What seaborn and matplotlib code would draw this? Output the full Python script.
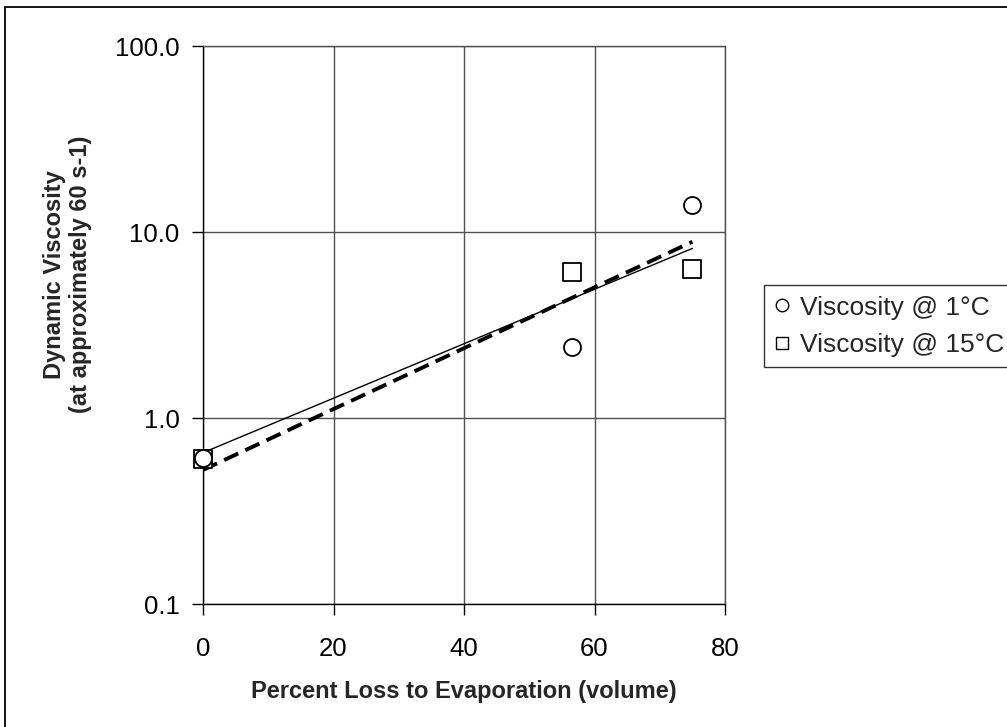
import numpy as np
import pandas as pd
import seaborn as sns
import matplotlib
matplotlib.use("Agg")
import matplotlib.pyplot as plt
from matplotlib.patches import Rectangle
from matplotlib.lines import Line2D
from matplotlib.ticker import FixedLocator, FuncFormatter, NullLocator

# ---- data ----
loss_pct = [0.0, 56.6, 75.0]
visc_1c = [0.61, 2.42, 14.0]
visc_15c = [0.60, 6.12, 6.35]
series_names = ["Viscosity @ 1°C", "Viscosity @ 15°C"]
x_ticks = [0, 20, 40, 60, 80]
y_ticks = [0.1, 1.0, 10.0, 100.0]

sns.set_theme(style="white")
plt.rcParams["font.family"] = ["Liberation Sans", "DejaVu Sans"]

W, H = 1007, 727
fig = plt.figure(figsize=(W / 100, H / 100), dpi=100)
ax = fig.add_axes([203 / W, 1 - 604 / H, (725 - 203) / W, (604 - 46) / H])

df1 = pd.DataFrame({"loss": loss_pct, "visc": visc_1c})
df15 = pd.DataFrame({"loss": loss_pct, "visc": visc_15c})

# exponential trendlines (least squares on log y)
xfit = np.linspace(min(loss_pct), max(loss_pct), 100)
for vals, ls, lw in [(visc_15c, "-", 1.0), (visc_1c, (0, (4, 2)), 2.8)]:
    b, a = np.polyfit(loss_pct, np.log(vals), 1)
    sns.lineplot(x=xfit, y=np.exp(a + b * xfit), ax=ax, color="black",
                 linestyle=ls, linewidth=lw, zorder=3)

sns.scatterplot(data=df15, x="loss", y="visc", marker="s", s=150,
                facecolor="white", edgecolor="black", linewidth=1.3,
                ax=ax, legend=False, zorder=4, clip_on=False)
sns.scatterplot(data=df1, x="loss", y="visc", marker="o", s=150,
                facecolor="white", edgecolor="black", linewidth=1.3,
                ax=ax, legend=False, zorder=5, clip_on=False)

ax.set_yscale("log")
ax.set_xlim(0, 80)
ax.set_ylim(0.1, 100)
ax.xaxis.set_major_locator(FixedLocator(x_ticks))
ax.yaxis.set_major_locator(FixedLocator(y_ticks))
ax.yaxis.set_minor_locator(NullLocator())
ax.yaxis.set_major_formatter(FuncFormatter(lambda v, p: f"{v:.1f}"))
ax.xaxis.set_major_formatter(FuncFormatter(lambda v, p: f"{v:g}"))

ax.grid(True, which="major", color="#505050", linewidth=1.0)
for s in ax.spines.values():
    s.set_color("#505050")
    s.set_linewidth(1.0)
ax.spines["left"].set_color("black")
ax.spines["bottom"].set_color("black")
ax.tick_params(axis="x", which="major", direction="out", length=8,
               width=1.0, color="black", labelsize=18.5, labelcolor="black",
               pad=16, bottom=True)
ax.tick_params(axis="y", which="major", direction="out", length=8,
               width=1.0, color="black", labelsize=18.5, labelcolor="black",
               pad=9, left=True)

ax.set_xlabel("Percent Loss to Evaporation (volume)", fontsize=17,
              fontweight="bold", labelpad=13.5)
ax.set_ylabel("Dynamic Viscosity\n(at approximately 60 s-1)", fontsize=17,
              fontweight="bold", linespacing=1.15)
ax.yaxis.set_label_coords(-0.2126, 0.59)

handles = [
    Line2D([], [], marker="o", linestyle="none", markersize=9,
           markerfacecolor="white", markeredgecolor="black", markeredgewidth=1.0),
    Line2D([], [], marker="s", linestyle="none", markersize=9,
           markerfacecolor="white", markeredgecolor="black", markeredgewidth=1.0),
]
leg = fig.legend(handles, series_names, loc="upper left",
                 bbox_to_anchor=(764 / W, 1 - 285 / H),
                 frameon=True, fancybox=False, fontsize=19,
                 handlelength=0.6, handletextpad=0.35, borderpad=0.4,
                 labelspacing=0.5, borderaxespad=0)
leg.get_frame().set_edgecolor("black")
leg.get_frame().set_linewidth(1.0)

fig.patches.append(Rectangle((5 / W, -0.1), 1.2, 1.1 - 7 / H,
                             transform=fig.transFigure, fill=False,
                             edgecolor="black", linewidth=1.3))

fig.savefig("out.png", dpi=100)
